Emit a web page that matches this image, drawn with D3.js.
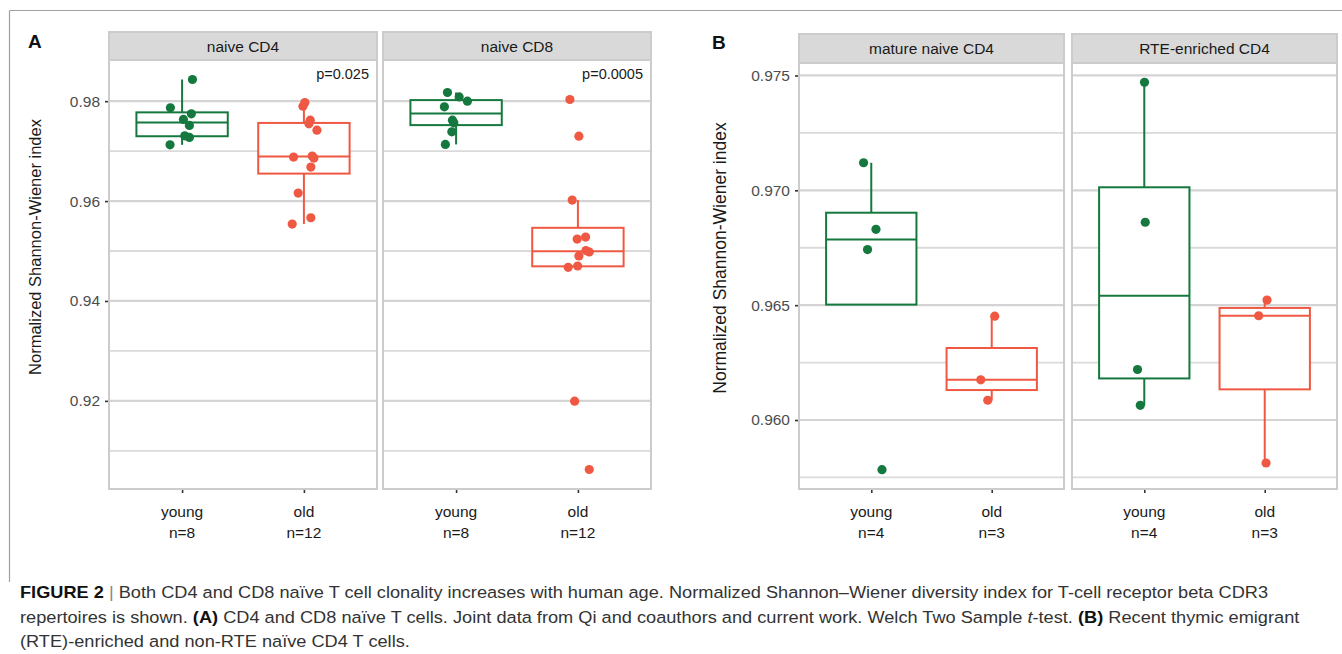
<!DOCTYPE html>
<html><head><meta charset="utf-8">
<script src="https://cdn.jsdelivr.net/npm/d3@7"></script>
<style>body{margin:0;background:#fff} svg{display:block}</style>
</head><body>
<svg id="chart" width="1342" height="654"></svg>
<script>
// ---------------- data ----------------
const groups = ["young", "old"];
const facetsA = ["naive CD4", "naive CD8"];
const facetsB = ["mature naive CD4", "RTE-enriched CD4"];
const pValuesA = ["p=0.025", "p=0.0005"];
const ticksA = [0.92, 0.94, 0.96, 0.98];
const ticksB = [0.960, 0.965, 0.970, 0.975];

const naiveCD4_young = [0.98434, 0.97866, 0.97746, 0.97634, 0.97514, 0.97306, 0.97274, 0.97126];
const naiveCD4_youngJitter = [0.085, -0.096, 0.076, 0.011, 0.06, 0.022, 0.06, -0.099];
const naiveCD4_old = [0.97974, 0.979, 0.9762, 0.97546, 0.9742, 0.9688, 0.969, 0.9686, 0.9668, 0.9616, 0.95666, 0.9554];
const naiveCD4_oldJitter = [0.008, -0.008, 0.052, 0.041, 0.107, -0.085, 0.068, 0.082, 0.057, -0.047, 0.057, -0.096];

const naiveCD8_young = [0.98174, 0.98086, 0.98, 0.97886, 0.9762, 0.97566, 0.97386, 0.97134];
const naiveCD8_youngJitter = [-0.071, 0.025, 0.093, -0.096, -0.03, -0.019, -0.035, -0.088];
const naiveCD8_old = [0.98034, 0.973, 0.9602, 0.9528, 0.9524, 0.9498, 0.9501, 0.949, 0.94674, 0.947, 0.91994, 0.90626];
const naiveCD8_oldJitter = [-0.066, 0.008, -0.047, 0.063, -0.006, 0.093, 0.066, 0.008, -0.08, -0.002, -0.027, 0.093];

const matureCD4_young = [0.9712, 0.9683, 0.96742, 0.95784];
const matureCD4_youngJitter = [-0.064, 0.039, -0.031, 0.089];
const matureCD4_old = [0.96452, 0.96175, 0.96086];
const matureCD4_oldJitter = [0.025, -0.091, -0.033];

const rteCD4_young = [0.9747, 0.96861, 0.9622, 0.96064];
const rteCD4_youngJitter = [0.002, 0.008, -0.056, -0.033];
const rteCD4_old = [0.96522, 0.96454, 0.95813];
const rteCD4_oldJitter = [0.019, -0.05, 0.011];

const caption = [
  [["b", "FIGURE 2"], ["sep", " | "], ["n", "Both CD4 and CD8 naïve T cell clonality increases with human age. Normalized Shannon–Wiener diversity index for T-cell receptor beta CDR3"]],
  [["n", "repertoires is shown. "], ["b", "(A)"], ["n", " CD4 and CD8 naïve T cells. Joint data from Qi and coauthors and current work. Welch Two Sample "], ["i", "t"], ["n", "-test. "], ["b", "(B)"], ["n", " Recent thymic emigrant"]],
  [["n", "(RTE)-enriched and non-RTE naïve CD4 T cells."]]
];

// ---------------- drawing ----------------
const svg = d3.select("#chart");
const FONT = "'Liberation Sans', Arial, Helvetica, sans-serif";
const GREEN = "#15793f", RED = "#ef5842";
const colorOf = d3.scaleOrdinal().domain(groups).range([GREEN, RED]);

svg.append("line").attr("x1", 9.5).attr("x2", 1342).attr("y1", 10.5).attr("y2", 10.5).attr("stroke", "#a0a0a0").attr("stroke-width", 1.2);
svg.append("line").attr("x1", 9.5).attr("x2", 9.5).attr("y1", 10.5).attr("y2", 582).attr("stroke", "#a0a0a0").attr("stroke-width", 1.2);

function expandDomain(arrs) {
  const all = arrs.flat();
  const [mn, mx] = d3.extent(all);
  const pad = (mx - mn) * 0.05;
  return [mn - pad, mx + pad];
}

function stats(vals) {
  const s = vals.slice().sort(d3.ascending);
  const q1 = d3.quantileSorted(s, 0.25), med = d3.quantileSorted(s, 0.5), q3 = d3.quantileSorted(s, 0.75);
  const iqr = q3 - q1;
  const lo = d3.min(s.filter(v => v >= q1 - 1.5 * iqr));
  const hi = d3.max(s.filter(v => v <= q3 + 1.5 * iqr));
  return {q1, med, q3, lo, hi};
}

function minorTicks(ticks, domain) {
  const step = ticks[1] - ticks[0];
  const out = [];
  for (let v = ticks[0] - step / 2; v <= domain[1] + 1e-12; v += step) if (v >= domain[0]) out.push(v);
  return out;
}

function drawPanel(cfg) {
  const g = svg.append("g");
  const {left, right, stripTop, top, bottom, title, y, series, pText, showY, ticks, fmt} = cfg;
  const x = d3.scalePoint().domain(groups).range([left, right]).padding(0.6);
  const step = x.step();

  g.append("rect").attr("x", left).attr("y", stripTop).attr("width", right - left).attr("height", top - stripTop)
    .attr("fill", "#d9d9d9").attr("stroke", "#cccccc").attr("stroke-width", 2);
  g.append("text").attr("x", (left + right) / 2).attr("y", (stripTop + top) / 2 + 5.5)
    .attr("text-anchor", "middle").attr("font-family", FONT).attr("font-size", 15.5).attr("fill", "#1a1a1a").text(title);

  g.append("rect").attr("x", left).attr("y", top).attr("width", right - left).attr("height", bottom - top).attr("fill", "#fff");
  const dom = y.domain();
  g.selectAll(".minor").data(minorTicks(ticks, dom)).join("line")
    .attr("x1", left).attr("x2", right).attr("y1", d => y(d)).attr("y2", d => y(d))
    .attr("stroke", "#dadada").attr("stroke-width", 1.8);
  g.selectAll(".major").data(ticks).join("line")
    .attr("x1", left).attr("x2", right).attr("y1", d => y(d)).attr("y2", d => y(d))
    .attr("stroke", "#d4d4d4").attr("stroke-width", 2.2);

  series.forEach((s, gi) => {
    const grp = groups[gi];
    const cx = x(grp), col = colorOf(grp);
    const st = stats(s.vals);
    const bw = step * 0.75;
    g.append("line").attr("x1", cx).attr("x2", cx).attr("y1", y(st.q3)).attr("y2", y(st.hi)).attr("stroke", col).attr("stroke-width", 2);
    g.append("line").attr("x1", cx).attr("x2", cx).attr("y1", y(st.q1)).attr("y2", y(st.lo)).attr("stroke", col).attr("stroke-width", 2);
    g.append("rect").attr("x", cx - bw / 2).attr("y", y(st.q3)).attr("width", bw).attr("height", y(st.q1) - y(st.q3))
      .attr("fill", "#fff").attr("stroke", col).attr("stroke-width", 2);
    g.append("line").attr("x1", cx - bw / 2).attr("x2", cx + bw / 2).attr("y1", y(st.med)).attr("y2", y(st.med)).attr("stroke", col).attr("stroke-width", 2);
  });
  series.forEach((s, gi) => {
    const grp = groups[gi];
    g.selectAll(null).data(s.vals.map((v, i) => ({v, j: s.jit[i]}))).join("circle")
      .attr("cx", d => x(grp) + d.j * step).attr("cy", d => y(d.v)).attr("r", 4.6).attr("fill", colorOf(grp));
  });

  g.append("rect").attr("x", left).attr("y", top).attr("width", right - left).attr("height", bottom - top)
    .attr("fill", "none").attr("stroke", "#cccccc").attr("stroke-width", 2);

  if (pText) g.append("text").attr("x", right - 8).attr("y", top + 19).attr("text-anchor", "end")
    .attr("font-family", FONT).attr("font-size", 14.5).attr("fill", "#1a1a1a").text(pText);

  const xa = g.append("g").attr("transform", `translate(0,${bottom + 1})`)
    .call(d3.axisBottom(x).tickSize(3).tickFormat(""));
  xa.select(".domain").remove();
  xa.selectAll("line").attr("stroke", "#333").attr("stroke-width", 1.6);
  groups.forEach((grp, gi) => {
    const t = g.append("text").attr("text-anchor", "middle").attr("font-family", FONT).attr("font-size", 15.5).attr("fill", "#1a1a1a");
    t.append("tspan").attr("x", x(grp)).attr("y", bottom + 28).text(grp);
    t.append("tspan").attr("x", x(grp)).attr("y", bottom + 49).text("n=" + series[gi].vals.length);
  });

  if (showY) {
    const ya = g.append("g").attr("transform", `translate(${left - 1},0)`)
      .call(d3.axisLeft(y).tickValues(ticks).tickSize(3).tickPadding(5).tickFormat(fmt));
    ya.select(".domain").remove();
    ya.selectAll("line").attr("stroke", "#333").attr("stroke-width", 1.6);
    ya.selectAll("text").attr("font-family", FONT).attr("font-size", 15.5).attr("fill", "#4d4d4d");
  }
}

const yA = d3.scaleLinear().domain(expandDomain([naiveCD4_young, naiveCD4_old, naiveCD8_young, naiveCD8_old])).range([489, 60]);
const fmtA = d3.format(".2f");
drawPanel({left: 109, right: 377, stripTop: 32, top: 60, bottom: 489, title: facetsA[0], y: yA, ticks: ticksA, fmt: fmtA, showY: true,
  pText: pValuesA[0], series: [{vals: naiveCD4_young, jit: naiveCD4_youngJitter}, {vals: naiveCD4_old, jit: naiveCD4_oldJitter}]});
drawPanel({left: 383, right: 651, stripTop: 32, top: 60, bottom: 489, title: facetsA[1], y: yA, ticks: ticksA, fmt: fmtA, showY: false,
  pText: pValuesA[1], series: [{vals: naiveCD8_young, jit: naiveCD8_youngJitter}, {vals: naiveCD8_old, jit: naiveCD8_oldJitter}]});

const yB = d3.scaleLinear().domain(expandDomain([matureCD4_young, matureCD4_old, rteCD4_young, rteCD4_old])).range([489, 63]);
const fmtB = d3.format(".3f");
drawPanel({left: 799, right: 1064, stripTop: 34, top: 63, bottom: 489, title: facetsB[0], y: yB, ticks: ticksB, fmt: fmtB, showY: true,
  series: [{vals: matureCD4_young, jit: matureCD4_youngJitter}, {vals: matureCD4_old, jit: matureCD4_oldJitter}]});
drawPanel({left: 1072, right: 1337, stripTop: 34, top: 63, bottom: 489, title: facetsB[1], y: yB, ticks: ticksB, fmt: fmtB, showY: false,
  series: [{vals: rteCD4_young, jit: rteCD4_youngJitter}, {vals: rteCD4_old, jit: rteCD4_oldJitter}]});

svg.append("text").attr("transform", "translate(41,247) rotate(-90)").attr("text-anchor", "middle")
  .attr("font-family", FONT).attr("font-size", 16.5).attr("fill", "#1a1a1a").text("Normalized Shannon-Wiener index");
svg.append("text").attr("transform", "translate(726,258) rotate(-90)").attr("text-anchor", "middle")
  .attr("font-family", FONT).attr("font-size", 17.5).attr("fill", "#1a1a1a").text("Normalized Shannon-Wiener index");

svg.append("text").attr("x", 28).attr("y", 48).attr("font-family", FONT).attr("font-weight", "bold").attr("font-size", 19).attr("fill", "#111").text("A");
svg.append("text").attr("x", 712).attr("y", 49).attr("font-family", FONT).attr("font-weight", "bold").attr("font-size", 19).attr("fill", "#111").text("B");

// caption: one common horizontal condensing factor, set from line 2's width in the reference
const capY = [598, 623, 647];
const line2Width = 1280;
const capTexts = caption.map((parts, li) => {
  const g = svg.append("g");
  const t = g.append("text").attr("x", 0).attr("y", 0)
    .attr("font-family", FONT).attr("font-size", 16.5).attr("fill", "#333");
  parts.forEach(([k, s]) => {
    const sp = t.append("tspan").text(s);
    if (k === "b") sp.attr("font-weight", "bold").attr("fill", "#111");
    if (k === "i") sp.attr("font-style", "italic");
    if (k === "sep") sp.attr("fill", "#888");
  });
  return {g, w: t.node().getComputedTextLength()};
});
const sx = line2Width / capTexts[1].w;
capTexts.forEach((c, li) => c.g.attr("transform", `translate(20,${capY[li]}) scale(${sx},1)`));
</script>
</body></html>
